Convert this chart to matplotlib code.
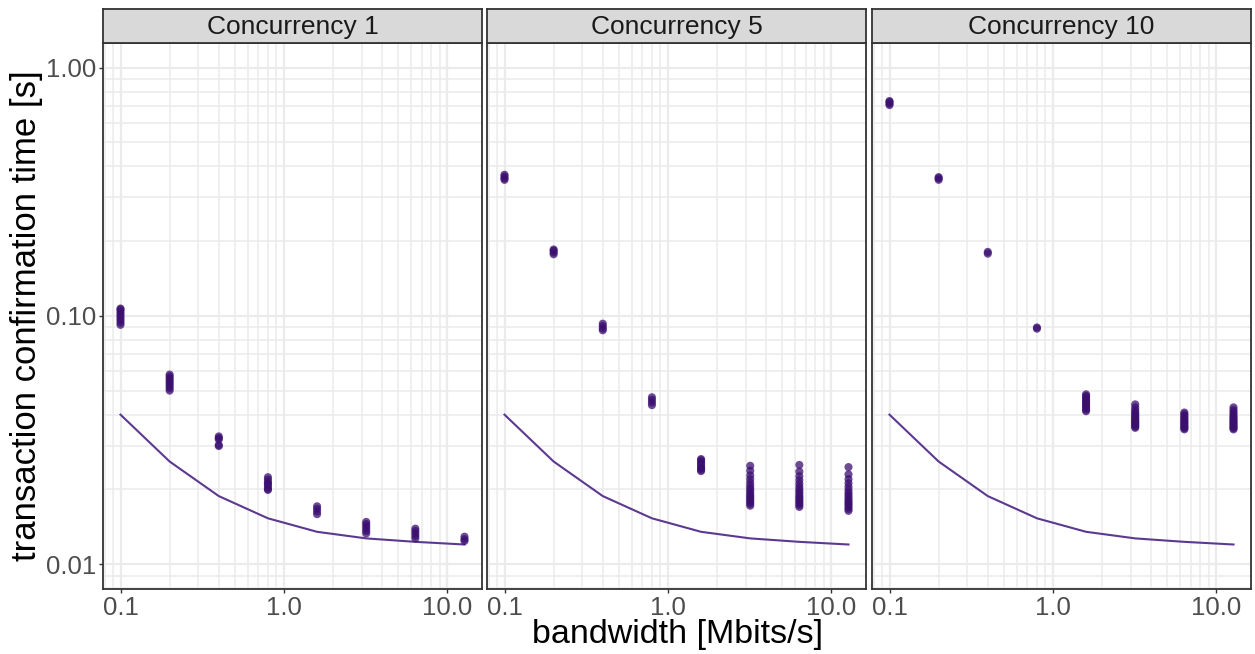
import numpy as np
import matplotlib
matplotlib.use("Agg")
import matplotlib.pyplot as plt
from matplotlib.ticker import FixedLocator, FixedFormatter, NullFormatter

plt.rcParams['font.family'] = ['Liberation Sans', 'DejaVu Sans']

# dane
bandwidth = [0.1, 0.2, 0.4, 0.8, 1.6, 3.2, 6.4, 12.8]
panel_titles = ["Concurrency 1", "Concurrency 5", "Concurrency 10"]

# model (linia) - taka sama w kazdym panelu
model_time = [0.0400, 0.0259, 0.0188, 0.0153, 0.0135, 0.0127, 0.0123, 0.0120]

# pomiary: jedna lista wartosci na kazda przepustowosc
conc1_times = [
    [0.092, 0.094, 0.096, 0.098, 0.100, 0.102, 0.104, 0.106, 0.107],
    [0.050, 0.051, 0.052, 0.053, 0.054, 0.055, 0.056, 0.057, 0.058],
    [0.0299, 0.0302, 0.0318, 0.0322, 0.0327],
    [0.0199, 0.0201, 0.0204, 0.0209, 0.0211, 0.0214, 0.0219, 0.0224],
    [0.0159, 0.0163, 0.0167, 0.0171],
    [0.0133, 0.0136, 0.0139, 0.0142, 0.0145, 0.0148],
    [0.0127, 0.0130, 0.0133, 0.0136, 0.0139],
    [0.0124, 0.0126, 0.0129],
]
conc5_times = [
    [0.353, 0.358, 0.364, 0.370],
    [0.177, 0.180, 0.183, 0.185],
    [0.0875, 0.089, 0.091, 0.093],
    [0.0437, 0.0448, 0.0459, 0.047],
    [0.0237, 0.0240, 0.0243, 0.0246, 0.0250, 0.0254, 0.0258, 0.0262, 0.0265],
    [0.0172, 0.0175, 0.0178, 0.0181, 0.0184, 0.0187, 0.0190, 0.0194,
     0.0198, 0.0202, 0.0207, 0.0213, 0.0220, 0.0228, 0.0238, 0.0249],
    [0.0170, 0.0173, 0.0176, 0.0179, 0.0182, 0.0185, 0.0188, 0.0192,
     0.0196, 0.0200, 0.0205, 0.0211, 0.0218, 0.0226, 0.0236, 0.0251],
    [0.0164, 0.0167, 0.0170, 0.0173, 0.0176, 0.0179, 0.0182, 0.0186,
     0.0190, 0.0194, 0.0199, 0.0205, 0.0212, 0.0220, 0.0230, 0.0246],
]
conc10_times = [
    [0.706, 0.716, 0.726, 0.733],
    [0.353, 0.358, 0.362],
    [0.178, 0.181],
    [0.0888, 0.0898],
    [0.0413, 0.0419, 0.0425, 0.0431, 0.0437, 0.0443, 0.0449, 0.0456,
     0.0462, 0.0469, 0.0476, 0.0483],
    [0.0354, 0.0358, 0.0362, 0.0366, 0.0370, 0.0374, 0.0378, 0.0383,
     0.0388, 0.0393, 0.0398, 0.0404, 0.0410, 0.0418, 0.0428, 0.044],
    [0.0349, 0.0353, 0.0357, 0.0361, 0.0366, 0.0370, 0.0375, 0.0380,
     0.0385, 0.0390, 0.0396, 0.0402, 0.0408],
    [0.0349, 0.0353, 0.0357, 0.0361, 0.0366, 0.0370, 0.0375, 0.0380,
     0.0385, 0.0390, 0.0396, 0.0403, 0.0410, 0.0418, 0.0428],
]
all_times = [conc1_times, conc5_times, conc10_times]

x_ticks = [0.1, 1.0, 10.0]
x_tick_labels = ["0.1", "1.0", "10.0"]
y_ticks = [0.01, 0.1, 1.0]
y_tick_labels = ["0.01", "0.10", "1.00"]

point_color = "#3B0F70"
line_color = "#5B3990"
grid_color = "#EBEBEB"
border_color = "#333333"

W, H = 1255, 654
fig = plt.figure(figsize=(W / 100, H / 100), dpi=100)

# zakresy osi z 5% marginesem jak w ggplot
lx = np.log10([min(bandwidth), max(bandwidth)])
px = 0.05 * (lx[1] - lx[0])
xlim = (10 ** (lx[0] - px), 10 ** (lx[1] + px))
ly = np.log10([0.01, 1.0])
py = 0.05 * (ly[1] - ly[0])
ylim = (10 ** (ly[0] - py), 10 ** (ly[1] + py))

panel_left = [103.3, 487.3, 872.3]
panel_w = 378.4
panel_top, panel_bot = 42.7, 589.0
strip_top = 9.3

minor_locs = [m * 10.0 ** e for e in range(-3, 3) for m in range(2, 10)]

for i, (title, times) in enumerate(zip(panel_titles, all_times)):
    ax = fig.add_axes([panel_left[i] / W, 1 - panel_bot / H,
                       panel_w / W, (panel_bot - panel_top) / H])
    ax.set_xscale("log")
    ax.set_yscale("log")
    ax.set_xlim(xlim)
    ax.set_ylim(ylim)

    ax.xaxis.set_major_locator(FixedLocator(x_ticks))
    ax.xaxis.set_major_formatter(FixedFormatter(x_tick_labels))
    ax.yaxis.set_major_locator(FixedLocator(y_ticks))
    ax.yaxis.set_major_formatter(FixedFormatter(y_tick_labels))
    ax.xaxis.set_minor_locator(FixedLocator(minor_locs))
    ax.yaxis.set_minor_locator(FixedLocator(minor_locs))
    ax.xaxis.set_minor_formatter(NullFormatter())
    ax.yaxis.set_minor_formatter(NullFormatter())

    ax.grid(True, which="major", color=grid_color, lw=1.6, zorder=0)
    ax.grid(True, which="minor", color=grid_color, lw=1.1, zorder=0)
    ax.set_axisbelow(True)

    ax.tick_params(which="minor", length=0)
    ax.tick_params(which="major", length=3, width=1.0, color=border_color,
                   labelsize=18.5, labelcolor="#4D4D4D", pad=2)
    if i > 0:
        ax.tick_params(axis="y", which="major", left=False, labelleft=False)

    for s in ax.spines.values():
        s.set_color(border_color)
        s.set_linewidth(1.3)

    for bw, vals in zip(bandwidth, times):
        ax.scatter([bw] * len(vals), vals, s=34, color=point_color,
                   alpha=0.75, edgecolors="none", zorder=3)
    ax.plot(bandwidth, model_time, color=line_color, lw=1.5, zorder=2)

    # pasek z tytulem panelu
    sax = fig.add_axes([panel_left[i] / W, 1 - panel_top / H,
                        panel_w / W, (panel_top - strip_top) / H])
    sax.set_facecolor("#D9D9D9")
    sax.set_xticks([])
    sax.set_yticks([])
    for s in sax.spines.values():
        s.set_color(border_color)
        s.set_linewidth(1.3)
    sax.text(0.5, 0.47, title, ha="center", va="center", fontsize=19,
             color="#1A1A1A", transform=sax.transAxes)

fig.text(27 / W, 1 - 316 / H, "transaction confirmation time [s]",
         rotation=90, ha="center", va="center", fontsize=25, color="black")
fig.text(677 / W, 1 - 635 / H, "bandwidth [Mbits/s]",
         ha="center", va="center", fontsize=24.5, color="black")

fig.savefig("out.png", dpi=100)
